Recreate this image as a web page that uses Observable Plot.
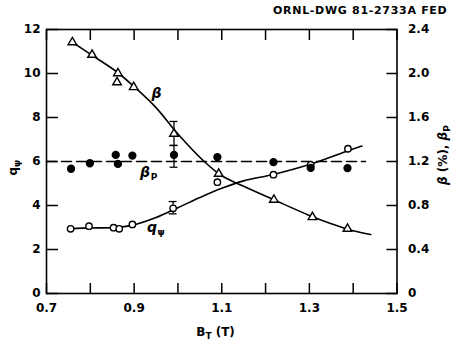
<!DOCTYPE html>
<html><head><meta charset="utf-8">
<script src="https://cdn.jsdelivr.net/npm/d3@7"></script>
<script src="https://cdn.jsdelivr.net/npm/@observablehq/plot@0.6"></script>
<style>
body{margin:0;background:#fff;}
#wrap{position:relative;width:460px;height:349px;overflow:hidden;}
#title{position:absolute;top:4px;left:273px;font:bold 11px "DejaVu Sans",sans-serif;letter-spacing:0.7px;white-space:nowrap;color:#000;}
</style></head><body>
<div id="wrap"><div id="title">ORNL-DWG 81-2733A FED</div></div>
<script>
// ---- data ----
// beta (%) : open triangles
const betaX   = [0.759, 0.804, 0.863, 0.861, 0.899, 0.991, 1.093, 1.219, 1.307, 1.387];
const betaPct = [2.284, 2.170, 2.002, 1.920, 1.876, 1.452, 1.088, 0.852, 0.694, 0.588];
// beta fit curve
const betaCurveX = [0.759, 0.80, 0.86, 0.90, 0.95, 1.00, 1.06, 1.10, 1.15, 1.22, 1.30, 1.35, 1.40, 1.44];
const betaCurveY = [2.284, 2.176, 2.016, 1.88, 1.69, 1.45, 1.20, 1.07, 0.975, 0.85, 0.71, 0.635, 0.57, 0.536];
// q_psi : open circles
const qX = [0.755, 0.797, 0.853, 0.866, 0.896, 0.989, 1.090, 1.218, 1.303, 1.388];
const qV = [2.94, 3.06, 2.99, 2.94, 3.14, 3.87, 5.06, 5.40, 5.85, 6.58];
// q_psi fit curve
const qCurveX = [0.755, 0.80, 0.86, 0.90, 0.95, 1.00, 1.05, 1.10, 1.15, 1.22, 1.30, 1.39, 1.42];
const qCurveY = [2.95, 2.98, 3.00, 3.12, 3.45, 3.90, 4.36, 4.78, 5.12, 5.42, 5.86, 6.50, 6.70];
// beta_p : filled dots
const bpX = [0.756, 0.799, 0.858, 0.863, 0.896, 0.991, 1.090, 1.218, 1.303, 1.387];
const bpV = [1.134, 1.184, 1.260, 1.178, 1.254, 1.260, 1.240, 1.194, 1.142, 1.140];
// beta_p mean (dashed)
const bpMeanX = [0.70, 1.428];
const bpMeanV = [1.2, 1.2];
// error bars  [x, low, high, series]
const errX    = [0.991, 0.991, 0.989];
const errLow  = [1.346, 1.148, 3.62];
const errHigh = [1.564, 1.346, 4.18];
const errUnit = ["pct", "pct", "q"];
// ticks
const xMinorTicks = [0.7, 0.8, 0.9, 1.0, 1.1, 1.2, 1.3, 1.4, 1.5];
const xLabelTicks = [0.7, 0.9, 1.1, 1.3, 1.5];
const yTicks = [0, 2, 4, 6, 8, 10, 12];
const yRightLabels = ["0", "0.4", "0.8", "1.2", "1.6", "2.0", "2.4"];
// curve labels
const labX = [0.951, 0.925, 0.941];
const labY = [9.07, 5.48, 2.98];
const labMain = ["β", "β", "q"];
const labSub = ["", "P", "ψ"];

// right axis (beta %, beta_p) = left axis (q_psi) / 5
const ratio = 5;
const pts = (xs, ys, k) => xs.map((x, i) => ({x, y: ys[i] * k}));
const betaPts = pts(betaX, betaPct, ratio);
const betaCurve = pts(betaCurveX, betaCurveY, ratio);
const qPts = pts(qX, qV, 1);
const qCurve = pts(qCurveX, qCurveY, 1);
const bpPts = pts(bpX, bpV, ratio);
const bpMean = pts(bpMeanX, bpMeanV, ratio);
const errs = errX.map((x, i) => {
  const k = errUnit[i] === "pct" ? ratio : 1;
  return {x, lo: errLow[i] * k, hi: errHigh[i] * k};
});
const capHalf = 0.009;
const caps = errs.flatMap(e => [{x: e.x, y: e.lo}, {x: e.x, y: e.hi}]);
const labels = labX.map((x, i) => ({x, y: labY[i], main: labMain[i], sub: labSub[i]}));

const chart = Plot.plot({
  width: 460, height: 349,
  marginLeft: 46, marginRight: 63.5, marginTop: 29, marginBottom: 56,
  x: {domain: [0.7, 1.5]},
  y: {domain: [0, 12]},
  style: {fontFamily: "DejaVu Sans, sans-serif", fontSize: "12px", fontWeight: "bold", color: "#000", background: "#fff"},
  marks: [
    Plot.frame({stroke: "#000", strokeWidth: 1.6}),
    Plot.axisX({anchor: "bottom", ticks: xMinorTicks, tickSize: -10, tickFormat: () => "", label: null, strokeWidth: 1.5}),
    Plot.axisX({anchor: "top", ticks: xMinorTicks, tickSize: -10, tickFormat: () => "", label: null, strokeWidth: 1.5}),
    Plot.axisX({anchor: "bottom", ticks: xLabelTicks, tickSize: 0, tickPadding: 10, tickFormat: d => d.toFixed(1), label: null}),
    Plot.axisY({anchor: "left", ticks: yTicks, tickSize: -12, tickFormat: () => "", label: null, strokeWidth: 1.5}),
    Plot.axisY({anchor: "right", ticks: yTicks, tickSize: -11, tickFormat: () => "", label: null, strokeWidth: 1.5}),
    Plot.axisY({anchor: "left", ticks: yTicks, tickSize: 0, tickPadding: 6, tickFormat: d => String(d), label: null}),
    Plot.axisY({anchor: "right", ticks: yTicks, tickSize: 0, tickPadding: 11, tickFormat: d => yRightLabels[yTicks.indexOf(d)], label: null}),
    Plot.line(bpMean, {x: "x", y: "y", stroke: "#000", strokeWidth: 1.6, strokeDasharray: "10,5"}),
    Plot.line(betaCurve, {x: "x", y: "y", curve: "catmull-rom", stroke: "#000", strokeWidth: 1.6}),
    Plot.line(qCurve, {x: "x", y: "y", curve: "catmull-rom", stroke: "#000", strokeWidth: 1.6}),
    Plot.ruleX(errs, {x: "x", y1: "lo", y2: "hi", stroke: "#000", strokeWidth: 1.3}),
    Plot.ruleY(caps, {y: "y", x1: d => d.x - capHalf, x2: d => d.x + capHalf, stroke: "#000", strokeWidth: 1.3}),
    Plot.dot(betaPts, {x: "x", y: "y", symbol: "triangle", r: 3.2, fill: "#fff", stroke: "#000", strokeWidth: 1.4}),
    Plot.dot(qPts, {x: "x", y: "y", symbol: "circle", r: 3.2, fill: "#fff", stroke: "#000", strokeWidth: 1.4}),
    Plot.dot(bpPts, {x: "x", y: "y", symbol: "circle", r: 3.4, fill: "#000", stroke: "#000"}),
    Plot.text(labels, {x: "x", y: "y", text: "main", fontSize: 14, fontStyle: "italic", fontWeight: "bold", fill: "#000"}),
    Plot.text(labels, {x: "x", y: "y", text: "sub", dx: 9, dy: 4, fontSize: 9, fontWeight: "bold", fill: "#000"})
  ]
});
document.getElementById("wrap").appendChild(chart);

// axis titles (with subscripts)
const svg = d3.select(chart);
const xs = chart.scale("x"), ys = chart.scale("y");
const font = "DejaVu Sans, sans-serif";
const xl = svg.append("text").attr("x", xs.apply(1.087)).attr("y", 336)
  .attr("text-anchor", "middle").attr("font-family", font).attr("font-weight", "bold").attr("font-size", 12);
xl.append("tspan").text("B");
xl.append("tspan").attr("dy", 3).attr("font-size", 9).text("T");
xl.append("tspan").attr("dy", -3).text(" (T)");

const yl = svg.append("text").attr("transform", `translate(17,${ys.apply(5.7)}) rotate(-90)`)
  .attr("text-anchor", "middle").attr("font-family", font).attr("font-weight", "bold").attr("font-size", 12);
yl.append("tspan").text("q");
yl.append("tspan").attr("dy", 3).attr("font-size", 9).text("ψ");

const yr = svg.append("text").attr("transform", `translate(447,${ys.apply(6.27)}) rotate(-90)`)
  .attr("text-anchor", "middle").attr("font-family", font).attr("font-weight", "bold").attr("font-size", 12);
yr.append("tspan").attr("font-style", "italic").text("β");
yr.append("tspan").text(" (%), ");
yr.append("tspan").attr("font-style", "italic").text("β");
yr.append("tspan").attr("dy", 3).attr("font-size", 9).text("P");
</script>
</body></html>
